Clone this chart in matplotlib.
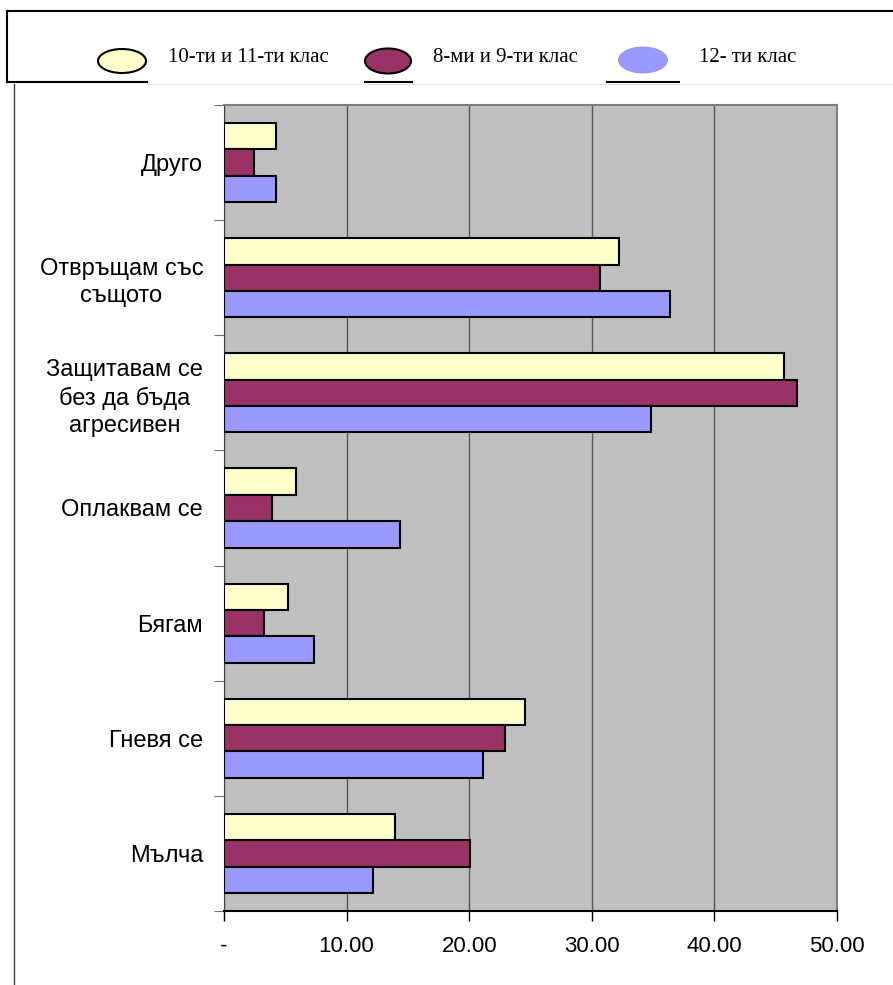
import numpy as np
import matplotlib
matplotlib.use('Agg')
import matplotlib.pyplot as plt
from matplotlib.patches import Ellipse

plt.rcParams['font.family'] = ['Liberation Sans', 'DejaVu Sans']

# категории отдолу нагоре
categories = ['Мълча', 'Гневя се', 'Бягам', 'Оплаквам се',
              'Защитавам се\nбез да бъда\nагресивен', 'Отвръщам със\nсъщото', 'Друго']
v_10_11 = [13.98, 24.55, 5.20, 5.85, 45.70, 32.20, 4.24]
v_8_9 = [20.10, 22.93, 3.25, 3.88, 46.70, 30.70, 2.42]
v_12 = [12.17, 21.10, 7.32, 14.33, 34.80, 36.40, 4.24]
series_names = ['10-ти и 11-ти клас', '8-ми и 9-ти клас', '12- ти клас']
xticks = [0, 10, 20, 30, 40, 50]
xticklabels = ['-', '10.00', '20.00', '30.00', '40.00', '50.00']

c_yellow = '#FFFFCC'
c_maroon = '#993366'
c_blue = '#9999FF'

fig = plt.figure(figsize=(8.93, 9.85), dpi=100)

# рамка и легенда (в пиксели)
ov = fig.add_axes([0, 0, 1, 1])
ov.set_xlim(0, 893)
ov.set_ylim(985, 0)
ov.axis('off')
ov.plot([7, 893], [11, 11], color='black', lw=1.5)
ov.plot([7, 7], [11, 82], color='black', lw=1.5)
ov.plot([7, 147], [82, 82], color='black', lw=1.5)
ov.plot([365, 412], [82, 82], color='black', lw=1.5)
ov.plot([607, 679], [82, 82], color='black', lw=1.5)
ov.plot([147, 893], [84, 84], color='#e6e6e6', lw=0.8)
ov.plot([14, 14], [84, 985], color='#404040', lw=1)

ov.add_patch(Ellipse((122, 61), 48, 24, fc=c_yellow, ec='black', lw=1.5))
ov.add_patch(Ellipse((388, 61), 46, 25, fc=c_maroon, ec='black', lw=1.5))
ov.add_patch(Ellipse((643, 60), 50, 27, fc=c_blue, ec='none'))
for x, name in zip([168, 433, 699], series_names):
    ov.text(x, 57, name, fontsize=15, family=['Liberation Serif', 'DejaVu Serif'],
            va='center', ha='left')

# основна диаграма
ax = fig.add_axes([224 / 893, 1 - 911 / 985, (837 - 224) / 893, (911 - 105) / 985])
ax.set_facecolor('#C0C0C0')
y = np.arange(len(categories))
h = 0.229
ax.barh(y + h, v_10_11, height=h, color=c_yellow, edgecolor='black', lw=1.5, zorder=3)
ax.barh(y, v_8_9, height=h, color=c_maroon, edgecolor='black', lw=1.5, zorder=3)
ax.barh(y - h, v_12, height=h, color=c_blue, edgecolor='black', lw=1.5, zorder=3)

ax.set_xlim(0, 50)
ax.set_ylim(-0.5, len(categories) - 0.5)
ax.grid(axis='x', color='#555555', lw=1)
ax.set_axisbelow(True)

ax.set_xticks(xticks)
ax.set_xticklabels(xticklabels, fontsize=16)
ax.tick_params(axis='x', direction='out', length=7, width=1, color='black', pad=11)

ax.set_yticks(np.arange(-0.5, len(categories), 1))
ax.set_yticklabels([])
ax.set_yticks(y, minor=True)
ax.set_yticklabels(categories, minor=True, fontsize=17)
ax.tick_params(axis='y', which='major', direction='out', length=7, color='#707070')
ax.tick_params(axis='y', which='minor', length=0, pad=15)
for t in ax.get_yticklabels(minor=True):
    t.set_multialignment('center')
    t.set_linespacing(1.3)

for s in ['top', 'right']:
    ax.spines[s].set_color('#808080')
    ax.spines[s].set_linewidth(1.5)
ax.spines['left'].set_color('#404040')
ax.spines['bottom'].set_color('black')
ax.spines['bottom'].set_linewidth(1.5)

plt.savefig('out.png', dpi=100)
